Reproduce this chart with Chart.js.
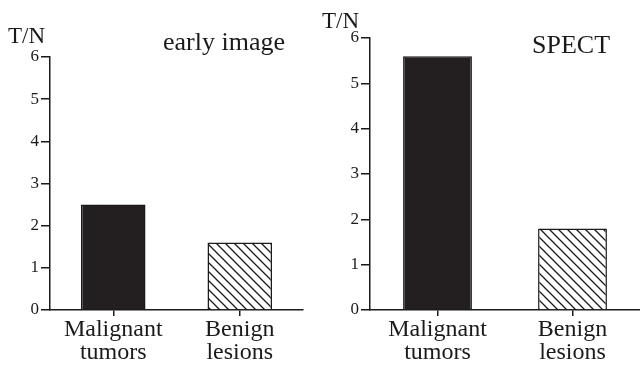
<!DOCTYPE html>
<html>
<head>
<meta charset="utf-8">
<script src="https://cdn.jsdelivr.net/npm/chart.js@4"></script>
<style>
  html, body { margin: 0; padding: 0; background: #fff; }
  .wrap { position: absolute; top: 0; width: 320px; height: 366px; }
  #w1 { left: 0; }
  #w2 { left: 320px; }
</style>
</head>
<body>
<div class="wrap" id="w1"><canvas id="c1" width="320" height="366"></canvas></div>
<div class="wrap" id="w2"><canvas id="c2" width="320" height="366"></canvas></div>
<script>
// ---- data ----
const categories = [["Malignant", "tumors"], ["Benign", "lesions"]];
const earlyValues = [2.5, 1.6];
const spectValues = [5.6, 1.8];
const yMin = 0, yMax = 6, yStep = 1;
const axisLabel = "T/N";
const panelTitles = ["early image", "SPECT"];

// ---- styles ----
const INK = "#1a1a1a";
const DARK = "#231f20";
const SERIF = "'Liberation Serif', 'Times New Roman', serif";

function hatch() {
  const s = 9;
  const p = document.createElement("canvas");
  p.width = s; p.height = s;
  const g = p.getContext("2d");
  g.fillStyle = "#fff"; g.fillRect(0, 0, s, s);
  g.strokeStyle = INK; g.lineWidth = 1.3;
  g.beginPath();
  g.moveTo(-1, -1); g.lineTo(s + 1, s + 1);
  g.moveTo(-1, s - 1); g.lineTo(1, s + 1);
  g.moveTo(s - 1, -1); g.lineTo(s + 1, 1);
  g.stroke();
  return g.createPattern(p, "repeat");
}

const textPlugin = {
  id: "panelText",
  afterDraw(chart, args, opts) {
    const ctx = chart.ctx;
    ctx.save();
    ctx.fillStyle = INK;
    ctx.textBaseline = "alphabetic";
    for (const t of opts.items) {
      ctx.font = t.size + "px " + SERIF;
      ctx.textAlign = t.align || "left";
      ctx.fillText(t.text, t.x, t.y);
    }
    ctx.restore();
  }
};

function makeChart(id, values, pad, texts) {
  const pat = hatch();
  return new Chart(document.getElementById(id), {
    type: "bar",
    data: {
      labels: categories,
      datasets: [{
        data: values,
        backgroundColor: [DARK, pat],
        borderColor: INK,
        borderWidth: 1.5,
        borderSkipped: "bottom",
        barPercentage: 0.51,
        categoryPercentage: 1.0
      }]
    },
    options: {
      responsive: false,
      animation: false,
      events: [],
      layout: { padding: { top: pad.top, right: pad.right, left: 0, bottom: 0 } },
      plugins: {
        legend: { display: false },
        tooltip: { enabled: false },
        panelText: { items: texts }
      },
      scales: {
        x: {
          offset: true,
          afterFit(s) { s.height = 56; },
          border: { display: true, color: INK, width: 1.5 },
          grid: { display: true, offset: false, drawOnChartArea: false, drawTicks: true, tickLength: 6, color: INK, lineWidth: 1.5 },
          ticks: { color: INK, padding: 2, font: { family: SERIF, size: 24, lineHeight: 0.97 }, maxRotation: 0, autoSkip: false }
        },
        y: {
          min: yMin, max: yMax,
          afterFit(s) { s.width = 50; },
          border: { display: true, color: INK, width: 1.5 },
          grid: { display: true, drawOnChartArea: false, drawTicks: true, tickLength: 9, color: INK, lineWidth: 1.5 },
          ticks: { stepSize: yStep, color: INK, padding: 2, font: { family: SERIF, size: 17 } }
        }
      }
    },
    plugins: [textPlugin]
  });
}

makeChart("c1", earlyValues, { top: 57, right: 17 }, [
  { text: axisLabel, x: 8, y: 43, size: 23 },
  { text: panelTitles[0], x: 163, y: 50, size: 26 }
]);
makeChart("c2", spectValues, { top: 38, right: 0 }, [
  { text: axisLabel, x: 2, y: 28, size: 23 },
  { text: panelTitles[1], x: 212, y: 53, size: 26 }
]);
</script>
</body>
</html>
